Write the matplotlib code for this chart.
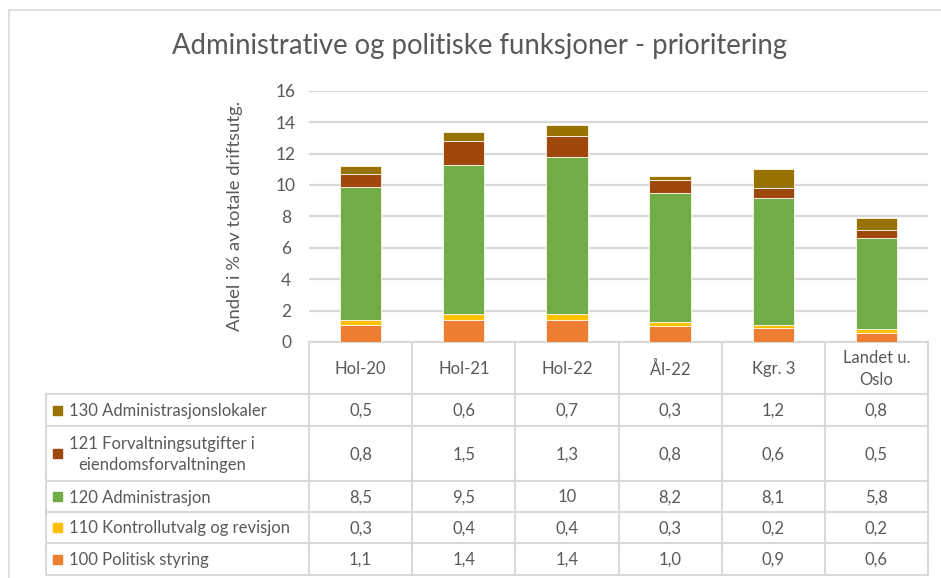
import matplotlib
matplotlib.use("Agg")
import matplotlib.pyplot as plt
import matplotlib.transforms as mtransforms
import numpy as np

plt.rcParams['font.family'] = ['Lato', 'DejaVu Sans']

# data
categories = ['Hol-20', 'Hol-21', 'Hol-22', 'Ål-22', 'Kgr. 3', 'Landet u.\nOslo']
series_names = ['100 Politisk styring',
                '110 Kontrollutvalg og revisjon',
                '120 Administrasjon',
                '121 Forvaltningsutgifter i\neiendomsforvaltningen',
                '130 Administrasjonslokaler']
politisk = [1.1, 1.4, 1.4, 1.0, 0.9, 0.6]
kontroll = [0.3, 0.4, 0.4, 0.3, 0.2, 0.2]
admin = [8.5, 9.5, 10, 8.2, 8.1, 5.8]
forvaltning = [0.8, 1.5, 1.3, 0.8, 0.6, 0.5]
lokaler = [0.5, 0.6, 0.7, 0.3, 1.2, 0.8]
series = [politisk, kontroll, admin, forvaltning, lokaler]
colors = ['#ED7D31', '#FFC000', '#70AD47', '#9E480E', '#997300']
yticks = [0, 2, 4, 6, 8, 10, 12, 14, 16]

txt = '#595959'
grid = '#D9D9D9'
W, H = 941, 578

fig = plt.figure(figsize=(W / 100, H / 100), dpi=100)

# overlay axes in pixel coords (y from top)
bg = fig.add_axes([0, 0, 1, 1])
bg.set_xlim(0, W)
bg.set_ylim(H, 0)
bg.axis('off')

# plot area
x0, x1, ytop, ybot = 309, 928, 90.7, 342
ax = fig.add_axes([x0 / W, 1 - ybot / H, (x1 - x0) / W, (ybot - ytop) / H])
x = np.arange(len(categories))
bottom = np.zeros(len(categories))
for vals, c in zip(series, colors):
    ax.bar(x, vals, width=0.4, bottom=bottom, color=c, edgecolor='#FFF8EE',
           linewidth=0.6, zorder=3)
    bottom += np.array(vals)
ax.set_xlim(-0.5, len(categories) - 0.5)
ax.set_ylim(0, 16)
ax.set_yticks(yticks)
ax.yaxis.grid(True, color=grid, linewidth=1.6)
ax.set_axisbelow(True)
for s in ax.spines.values():
    s.set_visible(False)
ax.set_xticks([])
ax.tick_params(axis='y', length=0, pad=16.5, labelsize=12.5, labelcolor=txt)
for lab in ax.get_yticklabels():
    lab.set_horizontalalignment('center')
ax.set_ylabel('Andel i % av totale driftsutg.', fontsize=13.3, color=txt)
ax.yaxis.set_label_coords(-(x0 - 243) / (x1 - x0), 0.5)

fig.text(480 / W, 1 - 46 / H, 'Administrative og politiske funksjoner - prioritering',
         ha='center', va='center', fontsize=19.8, color=txt)

# outer chart border
bg.plot([9.5, 9.5], [10, H], color=grid, lw=1.2)
bg.plot([9.5, W], [10, 10], color=grid, lw=1.2)

# data table
tr = mtransforms.blended_transform_factory(ax.transData, bg.transData)
rows = [342, 394, 426, 481, 512, 543, 575]
lbl_left = 46
col_edges = np.arange(len(categories) + 1) - 0.5

# header
bg.plot([x0, x1], [rows[0], rows[0]], color=grid, lw=1.5)
for i, cat in enumerate(categories):
    ax.text(i, (rows[0] + rows[1]) / 2 + 1, cat, transform=tr, ha='center',
            va='center', fontsize=12, color=txt, linespacing=1.4, clip_on=False)
for e in col_edges:
    ax.plot([e, e], [rows[0], rows[-1]], transform=tr, color=grid, lw=1.5, clip_on=False)
for r in rows[1:]:
    bg.plot([lbl_left, x1], [r, r], color=grid, lw=1.5)
bg.plot([lbl_left, lbl_left], [rows[1], rows[-1]], color=grid, lw=1.5)


def fmt(v):
    if v >= 10:
        return '%d' % v
    return ('%.1f' % v).replace('.', ',')


for k in range(len(series)):
    si = len(series) - 1 - k
    yc = (rows[k + 1] + rows[k + 2]) / 2
    bg.add_patch(plt.Rectangle((53, yc - 4.5), 9, 9, color=colors[si]))
    bg.text(69, yc + 1, series_names[si], ha='left', va='center', fontsize=12,
            color=txt, multialignment='center', linespacing=1.45)
    for i, v in enumerate(series[si]):
        ax.text(i, yc + 1, fmt(v), transform=tr, ha='center', va='center',
                fontsize=12, color=txt, clip_on=False)

fig.savefig('out.png', dpi=100)
